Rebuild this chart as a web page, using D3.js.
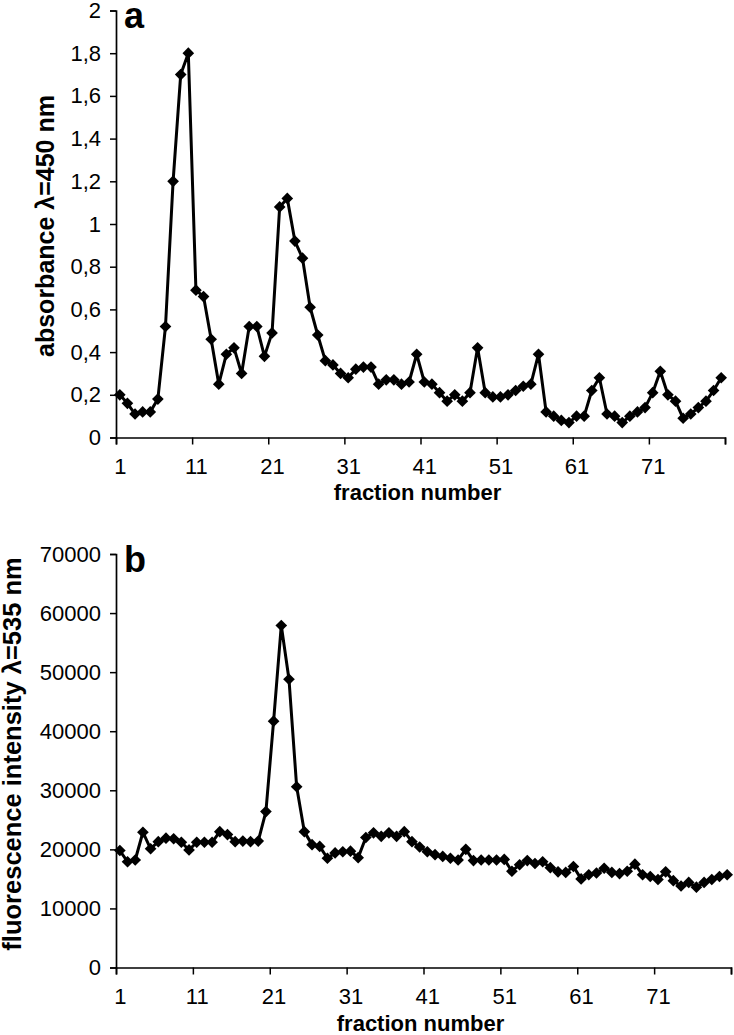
<!DOCTYPE html>
<html>
<head>
<meta charset="utf-8">
<script src="https://cdn.jsdelivr.net/npm/d3@7"></script>
<style>
  body { margin: 0; background: #fff; }
  svg { display: block; font-family: Arial, "Liberation Sans", sans-serif; }
</style>
</head>
<body>
<div id="chart"></div>
<script>
// fraction numbers (categories) and the two measured series
const fractions = d3.range(1, 81);

const absorbance = [
  0.20, 0.16, 0.11, 0.12, 0.12, 0.18, 0.52, 1.20, 1.70, 1.80,
  0.69, 0.66, 0.46, 0.25, 0.39, 0.42, 0.30, 0.52, 0.52, 0.38,
  0.49, 1.08, 1.12, 0.92, 0.84, 0.61, 0.48, 0.36, 0.34, 0.30,
  0.28, 0.32, 0.33, 0.33, 0.25, 0.27, 0.27, 0.25, 0.26, 0.39,
  0.26, 0.25, 0.21, 0.17, 0.20, 0.17, 0.21, 0.42, 0.21, 0.19,
  0.19, 0.20, 0.22, 0.24, 0.25, 0.39, 0.12, 0.10, 0.08, 0.07,
  0.10, 0.10, 0.22, 0.28, 0.11, 0.10, 0.07, 0.10, 0.12, 0.14,
  0.21, 0.31, 0.20, 0.17, 0.09, 0.11, 0.14, 0.17, 0.22, 0.28
];

const fluorescence = [
  19800, 17900, 18200, 22900, 20100, 21300, 21900, 21800, 21200, 19900,
  21200, 21200, 21200, 23000, 22500, 21300, 21400, 21300, 21400, 26400,
  41700, 57900, 48800, 30600, 23000, 20800, 20500, 18500, 19400, 19600,
  19700, 18600, 22000, 22800, 22200, 22800, 22200, 23000, 21300, 20400,
  19600, 19100, 18800, 18500, 18200, 20000, 18100, 18200, 18200, 18200,
  18300, 16300, 17400, 18100, 17600, 17900, 16900, 16200, 16100, 17100,
  15000, 15700, 16000, 16800, 16100, 15900, 16300, 17500, 15700, 15400,
  14900, 16200, 14700, 13800, 14400, 13600, 14400, 14900, 15400, 15700
];

const xLabelFractions = [1, 11, 21, 31, 41, 51, 61, 71];
const absTicks = [0, 0.2, 0.4, 0.6, 0.8, 1, 1.2, 1.4, 1.6, 1.8, 2];
const fluoTicks = [0, 10000, 20000, 30000, 40000, 50000, 60000, 70000];

const width = 734, height = 1035;

const svg = d3.select("#chart").append("svg")
    .attr("width", width)
    .attr("height", height);

svg.append("rect").attr("width", width).attr("height", height).attr("fill", "#fff");

// comma as decimal mark, like the original figure
const commaFmt = d => String(d).replace(".", ",");

const panels = [
  {
    values: absorbance, yMax: 2, ticks: absTicks, fmt: commaFmt,
    left: 116, right: 725, top: 10.5, bottom: 437.5,
    title: "absorbance \u03bb=450 nm", titleX: 54, titleY: 226, titleSize: 25,
    letter: "a", letterY: 28, xTitleY: 500
  },
  {
    values: fluorescence, yMax: 70000, ticks: fluoTicks, fmt: d => String(d),
    left: 116, right: 731, top: 554, bottom: 967.5,
    title: "fluorescence intensity \u03bb=535 nm", titleX: 21, titleY: 754, titleSize: 25.5,
    letter: "b", letterY: 572, xTitleY: 1031
  }
];

panels.forEach(p => drawPanel(p));

function drawPanel(p) {
    const g = svg.append("g");

    // category axis: points sit in the middle of each category slot
    const x = d3.scaleLinear()
        .domain([0.5, fractions.length + 0.5])
        .range([p.left, p.right]);

    const y = d3.scaleLinear()
        .domain([0, p.yMax])
        .range([p.bottom, p.top]);

    // y axis
    const yAxis = g.append("g")
        .attr("transform", `translate(${p.left},0)`)
        .call(d3.axisLeft(y).tickValues(p.ticks).tickFormat(p.fmt).tickSize(6).tickPadding(9));
    yAxis.select(".domain").attr("stroke-width", 1.7);
    yAxis.selectAll(".tick line").attr("stroke-width", 1.5);
    yAxis.selectAll("text").style("font-size", "22px").attr("fill", "#000");

    // x axis: tick marks on category boundaries every 10 fractions
    const boundaries = d3.range(0, fractions.length + 1, 10).map(v => v + 0.5);
    const xAxis = g.append("g")
        .attr("transform", `translate(0,${p.bottom})`)
        .call(d3.axisBottom(x).tickValues(boundaries).tickFormat("").tickSize(7));
    xAxis.select(".domain").attr("stroke-width", 1.7);
    xAxis.selectAll(".tick line").attr("stroke-width", 1.5);

    // x labels, centred on their fraction
    const xLabels = g.append("g")
        .attr("transform", `translate(0,${p.bottom})`)
        .call(d3.axisBottom(x).tickValues(xLabelFractions).tickSize(0).tickPadding(21));
    xLabels.select(".domain").remove();
    xLabels.selectAll("text").style("font-size", "22px").attr("fill", "#000");

    // axis titles
    g.append("text")
        .attr("x", (p.left + p.right) / 2 - 3)
        .attr("y", p.xTitleY)
        .attr("text-anchor", "middle")
        .style("font-size", "22px")
        .style("font-weight", "bold")
        .text("fraction number");

    g.append("text")
        .attr("transform", `translate(${p.titleX},${p.titleY}) rotate(-90)`)
        .attr("text-anchor", "middle")
        .style("font-size", p.titleSize + "px")
        .style("font-weight", "bold")
        .text(p.title);

    // panel letter
    g.append("text")
        .attr("x", 124)
        .attr("y", p.letterY)
        .style("font-size", "36px")
        .style("font-weight", "bold")
        .text(p.letter);

    // series line
    const line = d3.line()
        .x((d, i) => x(fractions[i]))
        .y(d => y(d));

    g.append("path")
        .datum(p.values)
        .attr("fill", "none")
        .attr("stroke", "#000")
        .attr("stroke-width", 3)
        .attr("stroke-linejoin", "round")
        .attr("d", line);

    // diamond markers
    const diamond = d3.symbol().type(d3.symbolSquare).size(68);
    g.selectAll("path.marker")
        .data(p.values)
        .join("path")
        .attr("class", "marker")
        .attr("d", diamond)
        .attr("fill", "#000")
        .attr("transform", (d, i) => `translate(${x(fractions[i])},${y(d)}) rotate(45)`);
}
</script>
</body>
</html>
